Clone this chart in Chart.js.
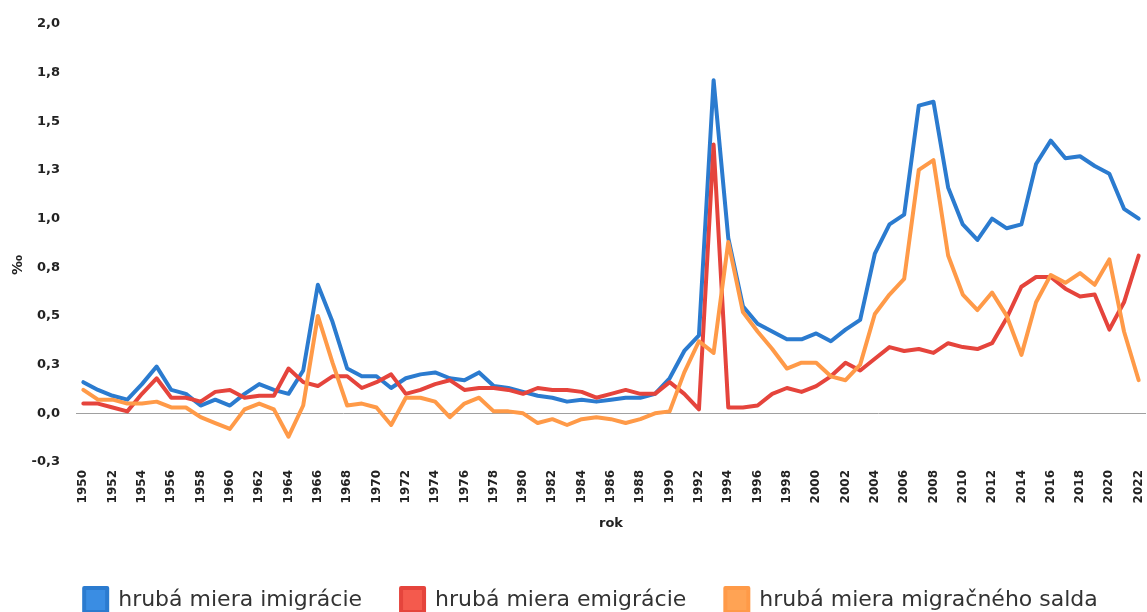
<!DOCTYPE html>
<html>
<head>
<meta charset="utf-8">
<script src="https://cdn.jsdelivr.net/npm/chart.js@4/dist/chart.umd.min.js"></script>
<style>
  html, body { margin: 0; padding: 0; background: #fff; }
  #wrap { width: 1147px; height: 612px; position: relative; }
</style>
</head>
<body>
<div id="wrap"><canvas id="myChart"></canvas></div>
<script>
// roky 1950 - 2022
var years = [];
for (var y = 1950; y <= 2022; y++) years.push(String(y));

// hrubá miera imigrácie (‰)
var imigracia = [
  0.16, 0.12, 0.09, 0.07, 0.15, 0.24, 0.12, 0.10, 0.04, 0.07,
  0.04, 0.10, 0.15, 0.12, 0.10, 0.22, 0.66, 0.47, 0.23, 0.19,
  0.19, 0.13, 0.18, 0.20, 0.21, 0.18, 0.17, 0.21, 0.14, 0.13,
  0.11, 0.09, 0.08, 0.06, 0.07, 0.06, 0.07, 0.08, 0.08, 0.10,
  0.18, 0.32, 0.40, 1.71, 0.90, 0.55, 0.46, 0.42, 0.38, 0.38,
  0.41, 0.37, 0.43, 0.48, 0.82, 0.97, 1.02, 1.58, 1.60, 1.16,
  0.97, 0.89, 1.00, 0.95, 0.97, 1.28, 1.40, 1.31, 1.32, 1.27,
  1.23, 1.05, 1.00
];

// hrubá miera emigrácie (‰)
var emigracia = [
  0.05, 0.05, 0.03, 0.01, 0.10, 0.18, 0.08, 0.08, 0.06, 0.11,
  0.12, 0.08, 0.09, 0.09, 0.23, 0.16, 0.14, 0.19, 0.19, 0.13,
  0.16, 0.20, 0.10, 0.12, 0.15, 0.17, 0.12, 0.13, 0.13, 0.12,
  0.10, 0.13, 0.12, 0.12, 0.11, 0.08, 0.10, 0.12, 0.10, 0.10,
  0.16, 0.10, 0.02, 1.38, 0.03, 0.03, 0.04, 0.10, 0.13, 0.11,
  0.14, 0.19, 0.26, 0.22, 0.28, 0.34, 0.32, 0.33, 0.31, 0.36,
  0.34, 0.33, 0.36, 0.49, 0.65, 0.70, 0.70, 0.64, 0.60, 0.61,
  0.43, 0.57, 0.81
];

// hrubá miera migračného salda (‰)
var saldo = [
  0.12, 0.07, 0.07, 0.05, 0.05, 0.06, 0.03, 0.03, -0.02, -0.05,
  -0.08, 0.02, 0.05, 0.02, -0.12, 0.04, 0.50, 0.26, 0.04, 0.05,
  0.03, -0.06, 0.08, 0.08, 0.06, -0.02, 0.05, 0.08, 0.01, 0.01,
  0.00, -0.05, -0.03, -0.06, -0.03, -0.02, -0.03, -0.05, -0.03, 0.00,
  0.01, 0.21, 0.37, 0.31, 0.88, 0.52, 0.42, 0.33, 0.23, 0.26,
  0.26, 0.19, 0.17, 0.25, 0.51, 0.61, 0.69, 1.25, 1.30, 0.81,
  0.61, 0.53, 0.62, 0.50, 0.30, 0.57, 0.71, 0.67, 0.72, 0.66,
  0.79, 0.42, 0.17
];

var seriesNames = ["hrubá miera imigrácie", "hrubá miera emigrácie", "hrubá miera migračného salda"];

// posunie legendu trochu doprava
var legendShift = {
  id: 'legendShift',
  afterLayout: function(chart) {
    if (chart.legend) chart.legend.left += 26;
  }
};

function buildChart() {
  var obj = {
    type: 'line',
    data: {
      labels: years,
      datasets: [
        makeDataset(seriesNames[0], imigracia, '#2b7bcf', '#3a8de3', 3),
        makeDataset(seriesNames[1], emigracia, '#e5443c', '#f45a4d', 2),
        makeDataset(seriesNames[2], saldo, '#ff9a48', '#ffa354', 1)
      ]
    },
    plugins: [legendShift],
    options: {
      responsive: true,
      maintainAspectRatio: false,
      animation: false,
      layout: { padding: { left: 10, right: 1, top: 14, bottom: -10 } },
      elements: {
        line: { tension: 0, borderWidth: 4, borderJoinStyle: 'round', borderCapStyle: 'round' },
        point: { radius: 0 }
      },
      scales: {
        x: {
          offset: true,
          afterFit: function(scale) { scale.paddingRight = 0; scale.paddingLeft = 0; },
          grid: { display: false, drawTicks: false },
          border: { display: false },
          ticks: {
            autoSkip: false,
            maxRotation: 90,
            minRotation: 90,
            padding: 8,
            color: '#222',
            font: { family: 'DejaVu Sans', size: 12, weight: 'bold' },
            callback: function(val, i) {
              return i % 2 === 0 ? years[i] : null;
            }
          },
          title: {
            display: true,
            text: 'rok',
            color: '#222',
            font: { family: 'DejaVu Sans', size: 13, weight: 'bold' },
            padding: { top: 4, bottom: 18 }
          }
        },
        y: {
          min: -0.25,
          max: 2,
          afterFit: function(scale) { scale.width = 66; },
          grid: {
            drawTicks: false,
            color: function(ctx) { return ctx.tick && ctx.tick.value === 0 ? '#a0a0a0' : 'rgba(0,0,0,0)'; },
            lineWidth: 1
          },
          border: { display: false },
          ticks: {
            stepSize: 0.25,
            padding: 16,
            color: '#222',
            font: { family: 'DejaVu Sans', size: 13, weight: 'bold' },
            callback: function(v) { return v.toFixed(1).replace('.', ','); }
          },
          title: {
            display: true,
            text: '‰' + '\u00a0'.repeat(9),
            color: '#222',
            font: { family: 'DejaVu Sans', size: 14, weight: 'bold' },
            padding: 0
          }
        }
      },
      plugins: {
        legend: {
          position: 'bottom',
          labels: {
            boxWidth: 23,
            boxHeight: 24,
            padding: 39,
            color: '#333',
            font: { family: 'DejaVu Sans', size: 22 },
            sort: function(a, b) { return a.datasetIndex - b.datasetIndex; }
          }
        },
        tooltip: { enabled: false }
      }
    }
  };
  var ctx = document.getElementById("myChart").getContext('2d');
  var myChart = new Chart(ctx, obj);
}

function makeDataset(label, values, lineColor, boxColor, order) {
  return {
    label: label,
    data: values,
    borderColor: lineColor,
    backgroundColor: boxColor,
    fill: false,
    order: order
  };
}

buildChart();
</script>
</body>
</html>
